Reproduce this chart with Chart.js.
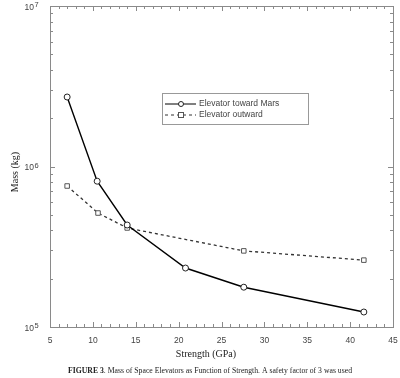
<!DOCTYPE html>
<html><head><meta charset="utf-8">
<script src="https://cdn.jsdelivr.net/npm/chart.js@4"></script>
<style>html,body{margin:0;padding:0;background:#fff}canvas{display:block}</style>
</head><body>
<canvas id="c" width="400" height="378"></canvas>
<script>
const seriesNames = ["Elevator toward Mars", "Elevator outward"];
const strengthMars = [7.0, 10.5, 14.0, 20.8, 27.6, 41.6];
const massMars = [2.71e6, 8.1e5, 4.32e5, 2.33e5, 1.77e5, 1.24e5];
const strengthOut = [7.0, 10.6, 14.0, 27.6, 41.6];
const massOut = [7.56e5, 5.13e5, 4.14e5, 2.98e5, 2.61e5];
const xTickLabels = [5, 10, 15, 20, 25, 30, 35, 40, 45];
const yTickExponents = [5, 6, 7];
const xTitle = "Strength (GPa)";
const yTitle = "Mass (kg)";
const captionBold = "FIGURE 3";
const captionRest = ". Mass of Space Elevators as Function of Strength. A safety factor of 3 was used";

const AXIS = '#8a8a8a';
const TXT = '#444';

const decor = {
  id: 'decor',
  afterDraw(chart) {
    const ctx = chart.ctx, a = chart.chartArea;
    const xs = chart.scales.x, ys = chart.scales.y;
    ctx.save();
    // frame
    ctx.strokeStyle = AXIS; ctx.lineWidth = 1;
    ctx.strokeRect(Math.round(a.left)+0.5, Math.round(a.top)+0.5, Math.round(a.right-a.left), Math.round(a.bottom-a.top));
    // x ticks (bottom and top, inward)
    ctx.beginPath();
    const xmin = xTickLabels[0], xmax = xTickLabels[xTickLabels.length-1];
    for (let v = xmin; v <= xmax; v++) {
      const px = Math.round(xs.getPixelForValue(v)) + 0.5;
      const len = (v % 5 === 0) ? 5 : 3;
      ctx.moveTo(px, a.bottom); ctx.lineTo(px, a.bottom - len);
      ctx.moveTo(px, a.top); ctx.lineTo(px, a.top + len);
    }
    // y ticks (left and right)
    for (let e = yTickExponents[0]; e <= yTickExponents[yTickExponents.length-1]; e++) {
      for (let m = 1; m <= 9; m++) {
        const val = m * Math.pow(10, e);
        if (val > Math.pow(10, yTickExponents[yTickExponents.length-1])) break;
        const py = Math.round(ys.getPixelForValue(val)) + 0.5;
        const len = m === 1 ? 5 : 3;
        ctx.moveTo(a.left, py); ctx.lineTo(a.left + len, py);
        ctx.moveTo(a.right, py); ctx.lineTo(a.right - len, py);
      }
    }
    ctx.stroke();
    // x tick labels
    ctx.fillStyle = TXT;
    ctx.font = '8.5px "Liberation Sans", Arial, sans-serif';
    ctx.textAlign = 'center'; ctx.textBaseline = 'alphabetic';
    xTickLabels.forEach(v => {
      ctx.fillText(String(v), xs.getPixelForValue(v), a.bottom + 16);
    });
    // y tick labels 10^n
    yTickExponents.forEach(e => {
      const py = ys.getPixelForValue(Math.pow(10, e));
      ctx.textAlign = 'left';
      ctx.font = '8.5px "Liberation Sans", Arial, sans-serif';
      ctx.fillText('10', 24.5, py + 3.5);
      ctx.font = '7.5px "Liberation Sans", Arial, sans-serif';
      ctx.fillText(String(e), 34.5, py + 1);
    });
    // axis titles
    ctx.fillStyle = '#222';
    ctx.font = '10px "Liberation Serif", "Times New Roman", serif';
    ctx.textAlign = 'center';
    ctx.fillText(xTitle, 206, 357);
    ctx.save();
    ctx.translate(18, 172);
    ctx.rotate(-Math.PI/2);
    ctx.font = '10px "Liberation Serif", "Times New Roman", serif';
    ctx.fillText(yTitle, 0, 0);
    ctx.restore();
    // caption
    ctx.textAlign = 'left';
    ctx.fillStyle = '#222';
    ctx.font = 'bold 8.5px "Liberation Serif", "Times New Roman", serif';
    const wb = ctx.measureText(captionBold).width;
    ctx.font = '8.5px "Liberation Serif", "Times New Roman", serif';
    const wr = ctx.measureText(captionRest).width;
    const sc = 284 / (wb + wr);
    ctx.save();
    ctx.translate(68, 373);
    ctx.scale(sc, 1);
    ctx.font = 'bold 8.5px "Liberation Serif", "Times New Roman", serif';
    ctx.fillText(captionBold, 0, 0);
    ctx.font = '8.5px "Liberation Serif", "Times New Roman", serif';
    ctx.fillText(captionRest, wb, 0);
    ctx.restore();
    // legend
    const lx = 162.5, ly = 93.5, lw = 146, lh = 31;
    ctx.fillStyle = '#fff';
    ctx.fillRect(lx, ly, lw, lh);
    ctx.strokeStyle = '#999'; ctx.lineWidth = 1;
    ctx.strokeRect(lx, ly, lw, lh);
    chart.data.datasets.forEach((ds, i) => {
      const y = 104 + i * 11;
      ctx.strokeStyle = ds.borderColor;
      ctx.lineWidth = 1;
      ctx.setLineDash(ds.borderDash || []);
      ctx.beginPath(); ctx.moveTo(165, y); ctx.lineTo(196, y); ctx.stroke();
      ctx.setLineDash([]);
      ctx.fillStyle = '#fff';
      ctx.strokeStyle = ds.pointBorderColor;
      if (ds.pointStyle === 'circle') {
        ctx.beginPath(); ctx.arc(181, y, 2.5, 0, Math.PI*2); ctx.fill(); ctx.stroke();
      } else {
        ctx.fillRect(178, y-2.5, 5, 5); ctx.strokeRect(178.5, y-2.5, 5, 5);
      }
      ctx.fillStyle = TXT;
      ctx.font = '8.5px "Liberation Sans", Arial, sans-serif';
      ctx.textAlign = 'left'; ctx.textBaseline = 'middle';
      ctx.fillText(ds.label, 199, y);
      ctx.textBaseline = 'alphabetic';
    });
    ctx.restore();
  }
};

new Chart(document.getElementById('c'), {
  type: 'line',
  data: {
    datasets: [
      {
        label: seriesNames[0],
        data: strengthMars.map((x, i) => ({x, y: massMars[i]})),
        borderColor: '#000', borderWidth: 1.4,
        pointStyle: 'circle', pointRadius: 3,
        pointBackgroundColor: '#fff', pointBorderColor: '#222', pointBorderWidth: 1,
        tension: 0, fill: false
      },
      {
        label: seriesNames[1],
        data: strengthOut.map((x, i) => ({x, y: massOut[i]})),
        borderColor: '#333', borderWidth: 1.3, borderDash: [3, 3],
        pointStyle: 'rect', pointRadius: 3.2,
        pointBackgroundColor: '#fff', pointBorderColor: '#555', pointBorderWidth: 1,
        tension: 0, fill: false
      }
    ]
  },
  options: {
    responsive: false, animation: false,
    layout: { padding: { left: 0, right: 7, top: 6, bottom: 0 } },
    plugins: { legend: { display: false }, tooltip: { enabled: false } },
    scales: {
      x: {
        type: 'linear', min: 5, max: 45,
        ticks: { display: false }, grid: { display: false }, border: { display: false },
        afterFit: s => { s.height = 51; }
      },
      y: {
        type: 'logarithmic', min: 1e5, max: 1e7,
        ticks: { display: false }, grid: { display: false }, border: { display: false },
        afterFit: s => { s.width = 50; }
      }
    }
  },
  plugins: [decor]
});
</script>
</body></html>
